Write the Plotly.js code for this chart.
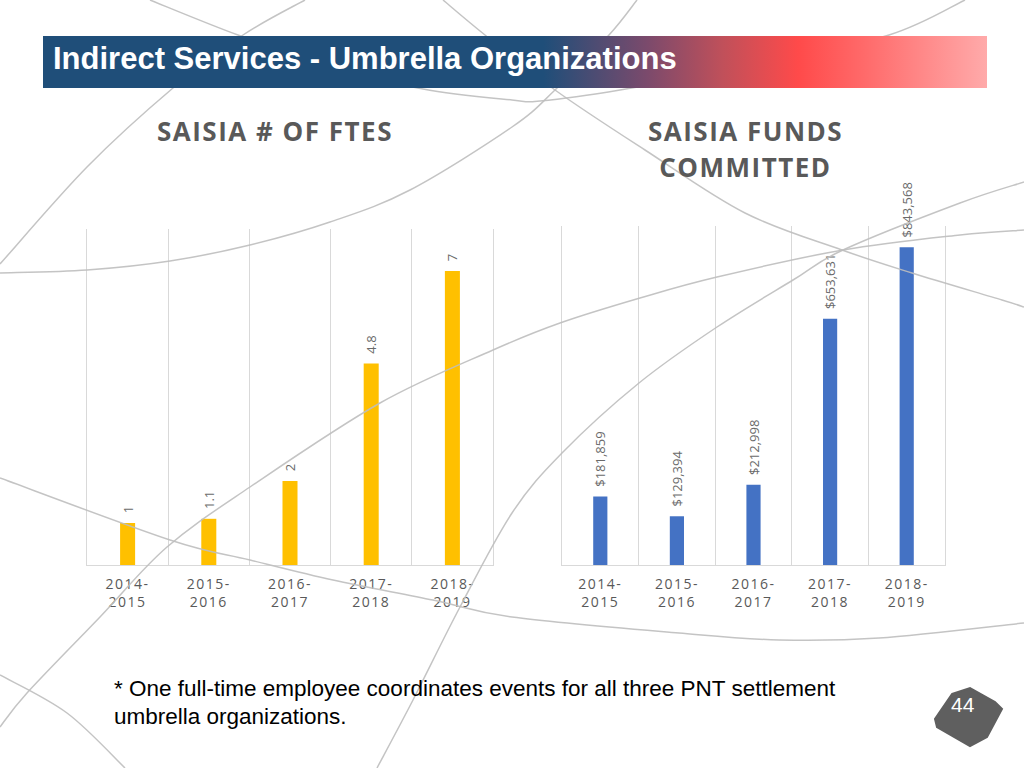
<!DOCTYPE html>
<html>
<head>
<meta charset="utf-8">
<script src="https://cdn.plot.ly/plotly-3.0.1.min.js"></script>
<style>
  html, body { margin: 0; padding: 0; background: #ffffff; }
  #wrap { position: relative; width: 1024px; height: 768px; overflow: hidden; }
  #chart { position: absolute; left: 0; top: 0; width: 1024px; height: 768px; }
  #banner {
    position: absolute; left: 43px; top: 36px; width: 944px; height: 52px; z-index: 10;
    background: linear-gradient(to right, #1f4e79 0%, #1f4e79 53%, #7b4a6c 64%, #c0505a 72%, #ff4a4a 80%, #ff6a6a 87%, #ffaaaa 100%);
  }
  #banner span {
    position: absolute; left: 10px; top: 1px;
    font-family: "Liberation Sans", Arial, sans-serif; font-weight: bold; font-size: 31px;
    color: #ffffff; line-height: 44px; white-space: nowrap;
  }
  .xtick text, .x2tick text { letter-spacing: 1.5px; }
  .annotation[data-index="0"] text,
  .annotation[data-index="1"] text,
  .annotation[data-index="2"] text { letter-spacing: 1.5px; }
</style>
</head>
<body>
<div id="wrap">
  <div id="chart"></div>
  <div id="banner"><span>Indirect Services - Umbrella Organizations</span></div>
</div>
<script>
// ---- data ----
const categories = ['2014-2015', '2015-2016', '2016-2017', '2017-2018', '2018-2019'];
const tickLabels = ['2014-<br>2015', '2015-<br>2016', '2016-<br>2017', '2017-<br>2018', '2018-<br>2019'];
const ftes = [1, 1.1, 2, 4.8, 7];
const funds = [181859, 129394, 212998, 653631, 843568];
const titleFtes = 'SAISIA # OF FTES';
const titleFunds1 = 'SAISIA FUNDS';
const titleFunds2 = 'COMMITTED';
const footnote1 = '* One full-time employee coordinates events for all three PNT settlement';
const footnote2 = 'umbrella organizations.';
const pageNumber = '44';

// ---- helpers (pixel -> paper) ----
const W = 1024, H = 768;
const px = x => x / W;
const py = y => 1 - y / H;

function curvePath(pts) {
  let d = 'M ' + px(pts[0][0]) + ' ' + py(pts[0][1]);
  for (let i = 0; i < pts.length - 1; i++) {
    const p0 = pts[i - 1] || pts[i], p1 = pts[i], p2 = pts[i + 1], p3 = pts[i + 2] || pts[i + 1];
    const c1 = [p1[0] + (p2[0] - p0[0]) / 6, p1[1] + (p2[1] - p0[1]) / 6];
    const c2 = [p2[0] - (p3[0] - p1[0]) / 6, p2[1] - (p3[1] - p1[1]) / 6];
    d += ' C ' + px(c1[0]) + ' ' + py(c1[1]) + ', ' + px(c2[0]) + ' ' + py(c2[1]) + ', ' + px(p2[0]) + ' ' + py(p2[1]);
  }
  return d;
}

// decorative background arcs (pixel geometry)
const arcs = [
  [[150,0],[238,35],[330,66],[423,89],[512,100],[540,101],[620,90],[760,64],[889,35],[965,0]],
  [[305,0],[243,35],[173,88],[87,167],[0,264]],
  [[0,273],[87,270],[170,261],[250,245],[330,222],[410,190],[512,127],[555,90],[609,35],[637,0]],
  [[443,0],[485,35],[555,90],[645,150],[745,213],[842,250],[912,273],[1002,300],[1024,307]],
  [[0,727],[27,693],[100,617],[167,547],[250,487],[380,403],[493,350],[560,323],[640,298],[717,277],[843,250],[960,235],[1024,230]],
  [[377,768],[413,700],[460,607],[512,513],[562,453],[639,383],[717,327],[793,280],[843,250],[960,203],[1024,182]],
  [[0,478],[170,540],[250,560],[333,580],[433,600],[512,617],[679,633],[779,640],[879,638],[1024,623]],
  [[0,675],[67,713],[125,768]]
];

const shapes = arcs.map(a => ({
  type: 'path', xref: 'paper', yref: 'paper', layer: 'above',
  path: curvePath(a), line: { color: 'rgba(190,190,190,0.9)', width: 1.5 }
}));

// page number badge
const hex = [[952,694],[970,688],[995,702],[1002,709],[987,737],[970,746],[937,727],[935,719]];
shapes.push({
  type: 'path', xref: 'paper', yref: 'paper', layer: 'above',
  path: 'M ' + hex.map(p => px(p[0]) + ' ' + py(p[1])).join(' L ') + ' Z',
  fillcolor: '#5f5f5f', line: { color: '#5f5f5f', width: 2 }
});

const grey = '#595959';
const pad = '\u00a0\u00a0';
const traces = [
  {
    type: 'bar', x: categories, y: ftes, xaxis: 'x', yaxis: 'y',
    marker: { color: '#FFC000' },
    texttemplate: pad + '%{y}', textposition: 'outside', textangle: -90, cliponaxis: false, constraintext: 'none',
    textfont: { family: 'Open Sans', size: 13, color: '#6a6a6a' }, hoverinfo: 'none'
  },
  {
    type: 'bar', x: categories, y: funds, xaxis: 'x2', yaxis: 'y2',
    marker: { color: '#4472C4' },
    texttemplate: pad + '$%{y:,}', textposition: 'outside', textangle: -90, cliponaxis: false, constraintext: 'none',
    textfont: { family: 'Open Sans', size: 13, color: '#6a6a6a' }, hoverinfo: 'none'
  }
];

const xBase = {
  type: 'category', tickson: 'boundaries', showgrid: true, gridcolor: '#d9d9d9', gridwidth: 1,
  showline: true, linecolor: '#d9d9d9', linewidth: 1, ticks: '', zeroline: false,
  tickmode: 'array', tickvals: categories, ticktext: tickLabels, ticklabelstandoff: 6,
  tickfont: { family: 'Open Sans', size: 14, color: grey }, fixedrange: true
};
const yBase = {
  showgrid: false, zeroline: false, showticklabels: false, ticks: '',
  showline: true, mirror: true, linecolor: '#d9d9d9', linewidth: 1, fixedrange: true
};

const layout = {
  width: W, height: H, margin: { l: 0, r: 0, t: 0, b: 0 },
  paper_bgcolor: '#ffffff', plot_bgcolor: 'rgba(0,0,0,0)',
  showlegend: false, hovermode: false, bargap: 0.815,
  xaxis: Object.assign({}, xBase, { domain: [px(87), px(493)], anchor: 'y' }),
  yaxis: Object.assign({}, yBase, { domain: [py(565), py(229)], range: [0, 8], anchor: 'x' }),
  xaxis2: Object.assign({}, xBase, { domain: [px(562), px(945)], anchor: 'y2' }),
  yaxis2: Object.assign({}, yBase, { domain: [py(565), py(226)], range: [0, 900000], anchor: 'x2' }),
  shapes: shapes,
  annotations: [
    { text: '<b>' + titleFtes + '</b>', xref: 'paper', yref: 'paper', x: px(275), y: py(131), xanchor: 'center', yanchor: 'middle', showarrow: false, font: { family: 'Open Sans', size: 26, color: grey } },
    { text: '<b>' + titleFunds1 + '</b>', xref: 'paper', yref: 'paper', x: px(745), y: py(131), xanchor: 'center', yanchor: 'middle', showarrow: false, font: { family: 'Open Sans', size: 26, color: grey } },
    { text: '<b>' + titleFunds2 + '</b>', xref: 'paper', yref: 'paper', x: px(745), y: py(167), xanchor: 'center', yanchor: 'middle', showarrow: false, font: { family: 'Open Sans', size: 26, color: grey } },
    { text: footnote1, xref: 'paper', yref: 'paper', x: px(112), y: py(688), xanchor: 'left', yanchor: 'middle', showarrow: false, font: { family: 'Liberation Sans', size: 22.5, color: '#000000' } },
    { text: footnote2, xref: 'paper', yref: 'paper', x: px(112), y: py(716), xanchor: 'left', yanchor: 'middle', showarrow: false, font: { family: 'Liberation Sans', size: 22.5, color: '#000000' } },
    { text: pageNumber, xref: 'paper', yref: 'paper', x: px(963), y: py(704), xanchor: 'center', yanchor: 'middle', showarrow: false, font: { family: 'Liberation Sans', size: 21, color: '#ffffff' } }
  ]
};

Plotly.newPlot('chart', traces, layout, { staticPlot: true, displayModeBar: false });
</script>
</body>
</html>
